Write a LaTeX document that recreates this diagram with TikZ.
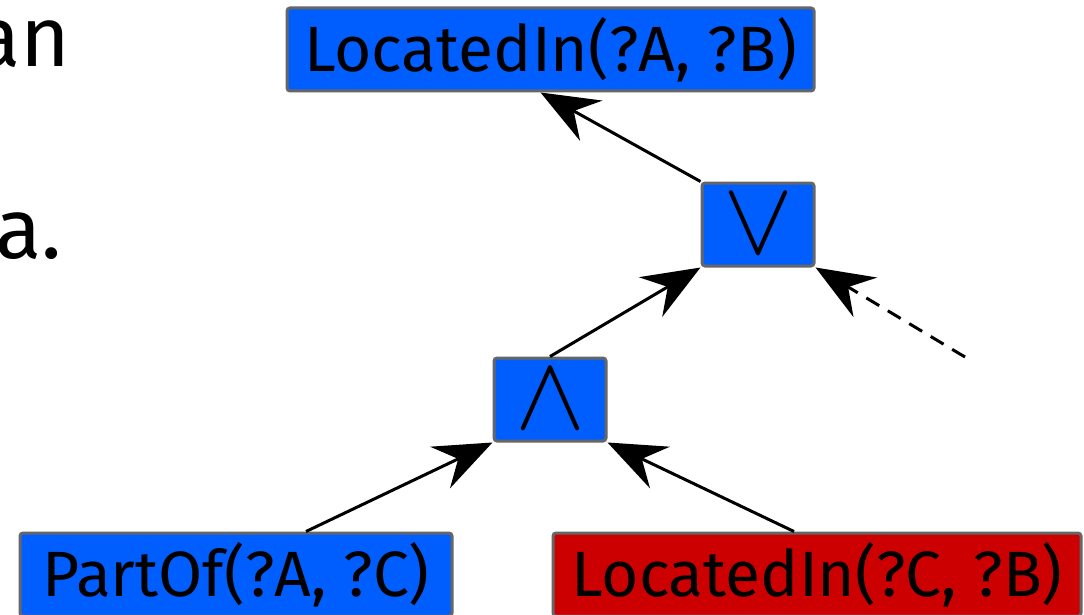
\documentclass[tikz,border=0pt]{standalone}
\usepackage{graphicx}
\usepackage{fontspec}
\setmainfont{Fira Sans}
\usetikzlibrary{arrows.meta,calc}
\definecolor{nodeblue}{RGB}{0,94,255}
\definecolor{nodered}{RGB}{204,0,0}
\definecolor{edgegray}{RGB}{102,102,102}
\newcommand{\bigop}[1]{\scalebox{10.5}[10.5]{\fontsize{10}{12}\selectfont$#1$}}
\begin{document}
\begin{tikzpicture}[x=1pt,y=-1pt,
  box/.style={draw=edgegray, line width=3pt, rounded corners=3pt, fill=nodeblue,
    minimum height=83pt, inner sep=0pt, text=black, font=\fontsize{64}{72}\selectfont},
  redbox/.style={box, fill=nodered},
  oper/.style={box, minimum width=112pt},
  link/.style={line width=3pt, -{Stealth[length=58pt,width=46pt,inset=20pt]}},
  slidetext/.style={anchor=base east, inner sep=0pt, font=\fontsize{85}{100}\selectfont},
  ]
\useasboundingbox (0,0) rectangle (1084,615);

% fragments of the surrounding slide text
\node[slidetext] (w1) at (71,67) {an};
\node[slidetext] (w2) at (62,258) {a.};

% rule tree
\node[box, minimum width=527pt] (goal) at (550.5,49.5) {LocatedIn(?A, ?B)};
\node[oper] (or) at (758,224.5) {\bigop{\vee}};
\node[oper] (and) at (550,399.5) {\bigop{\wedge}};
\node[box, minimum width=432pt] (partof) at (236,574.5) {PartOf(?A, ?C)};
\node[redbox, minimum width=528pt] (loc) at (817,574.5) {LocatedIn(?C, ?B)};
\coordinate (more) at (965,357);

\draw[link] (or.north west) -- ($(goal.south)+(-10,0)$);
\draw[link] (and.north) -- (or.south west);
\draw[link, dash pattern=on 15pt off 10pt] (more) -- (or.south east);
\draw[link] ($(partof.north)+(70,0)$) -- (and.south west);
\draw[link] ($(loc.north)+(-23,0)$) -- (and.south east);
\end{tikzpicture}
\end{document}
